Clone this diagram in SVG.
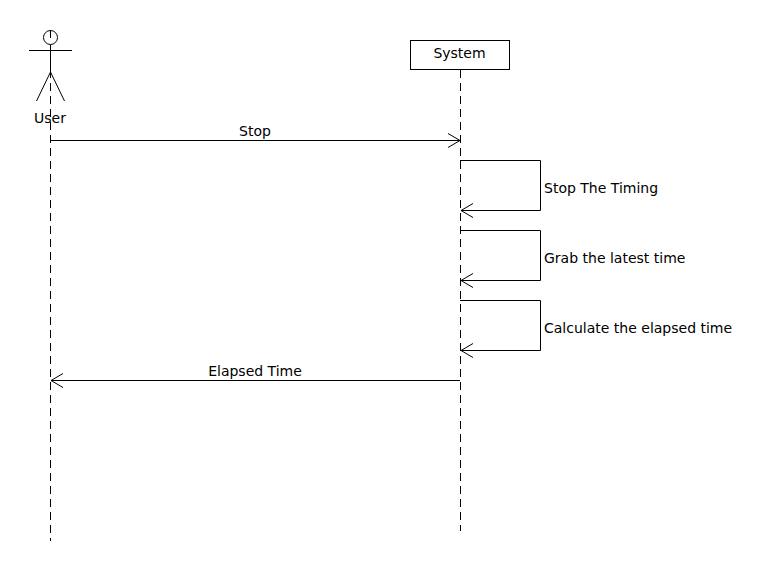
<svg xmlns="http://www.w3.org/2000/svg" width="770" height="580" viewBox="0 0 770 580">
<style>
.l{fill:none;stroke:#000;stroke-width:1}
.d{fill:none;stroke:#000;stroke-width:1;stroke-dasharray:8 5}
text{font-family:"DejaVu Sans",sans-serif;font-size:14px;fill:#000}
</style>
<defs>
<marker id="a" markerUnits="userSpaceOnUse" markerWidth="16" markerHeight="16" refX="13" refY="8" orient="auto"><path d="M1 1 L13 8 L1 15" class="l"/></marker>
</defs>
<rect width="770" height="580" fill="#fff"/>
<g id="connectors">
<path class="d" d="M50.500 70V541"/>
<path class="d" d="M460.500 70V531"/>
<path class="l" d="M50 140.500H460" marker-end="url(#a)"/>
<path class="l" d="M460 160.500H540.500V210.500H461" marker-end="url(#a)"/>
<path class="l" d="M460 230.500H540.500V280.500H461" marker-end="url(#a)"/>
<path class="l" d="M460 300.500H540.500V350.500H461" marker-end="url(#a)"/>
<path class="l" d="M460 380.500H51" marker-end="url(#a)"/>
</g>
<g id="user">
<circle class="l" cx="50.500" cy="37.500" r="7"/>
<path class="l" d="M50.500 30V38M50.500 44.500V72M29 50.500H72M50.500 72L36.500 101M50.500 72L64.500 101"/>
<text x="50" y="123" text-anchor="middle">User</text>
</g>
<g id="system">
<rect class="l" x="410.500" y="40.500" width="99" height="29" fill="#fff"/>
<text x="459.500" y="58" text-anchor="middle">System</text>
</g>
<g id="labels">
<text x="255" y="136" text-anchor="middle">Stop</text>
<text x="544" y="193">Stop The Timing</text>
<text x="544" y="263">Grab the latest time</text>
<text x="544" y="333">Calculate the elapsed time</text>
<text x="255" y="376" text-anchor="middle">Elapsed Time</text>
</g>
</svg>
